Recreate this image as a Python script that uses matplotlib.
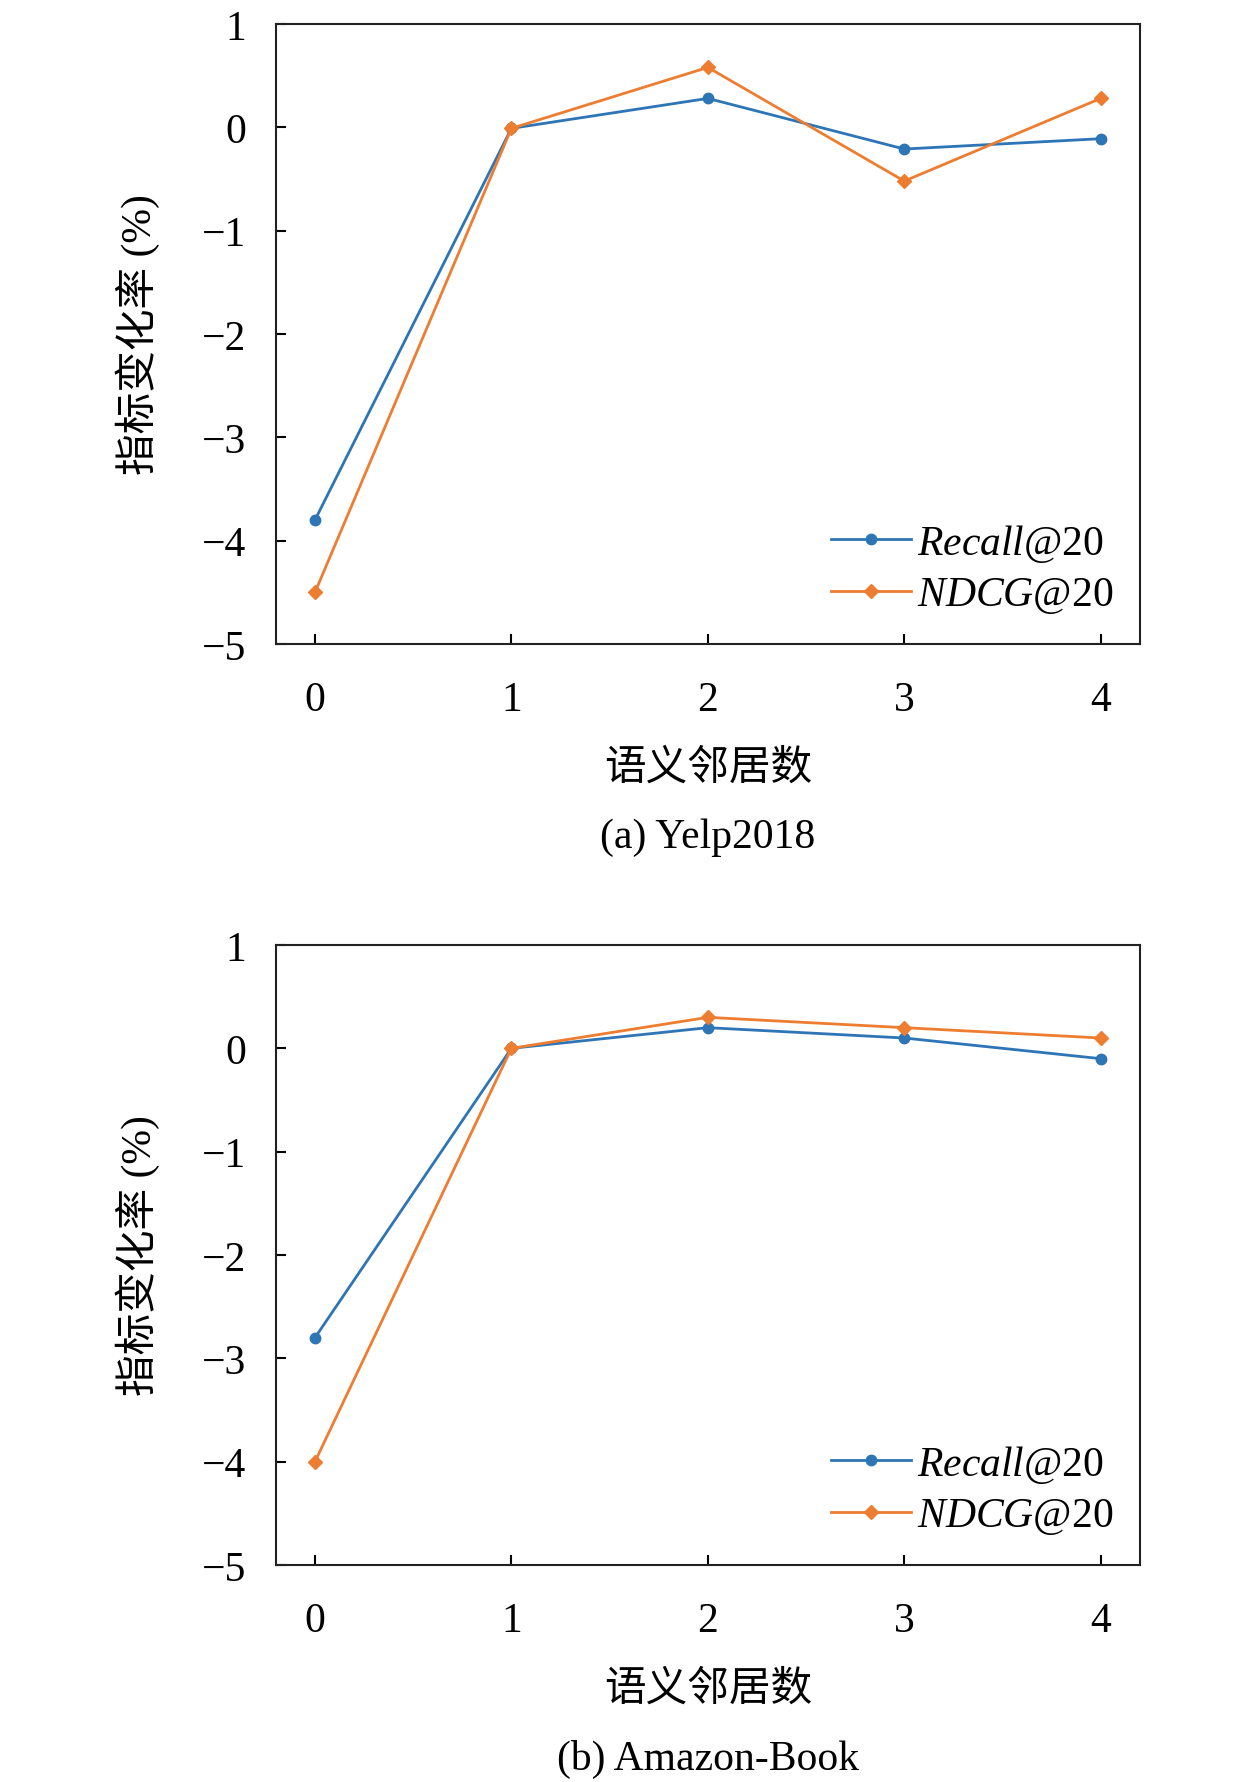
import matplotlib
matplotlib.use("Agg")
import matplotlib.pyplot as plt

plt.rcParams['font.family'] = ['Liberation Serif', 'Noto Sans CJK SC']
plt.rcParams['mathtext.fontset'] = 'custom'
plt.rcParams['mathtext.it'] = 'Liberation Serif:italic'
plt.rcParams['mathtext.rm'] = 'Liberation Serif'

# 语义邻居数
neighbors = [0, 1, 2, 3, 4]

# (a) Yelp2018
yelp_recall = [-3.8, -0.01, 0.28, -0.21, -0.11]
yelp_ndcg = [-4.5, -0.01, 0.58, -0.52, 0.28]

# (b) Amazon-Book
book_recall = [-2.8, 0.0, 0.2, 0.1, -0.1]
book_ndcg = [-4.0, 0.0, 0.3, 0.2, 0.1]

yticks = [1, 0, -1, -2, -3, -4, -5]
captions = ['(a) Yelp2018', '(b) Amazon-Book']

blue = '#2E75B6'
orange = '#ED7D31'
fs = 30

fig = plt.figure(figsize=(12.59, 17.83), dpi=100)

ax_left = 275.7 / 1259
ax_w = (1140 - 275.7) / 1259
ax_h = 620 / 1783
tops = [25, 946]

data = [(yelp_recall, yelp_ndcg), (book_recall, book_ndcg)]

for i in range(2):
    top = tops[i]
    ax = fig.add_axes([ax_left, 1 - (top + 620) / 1783, ax_w, ax_h])
    rec, ndcg = data[i]
    ax.plot(neighbors, rec, color=blue, lw=2, marker='o', ms=7.5,
            label=r'$\mathit{Recall}$@20')
    ax.plot(neighbors, ndcg, color=orange, lw=2, marker='D', ms=7.5,
            label=r'$\mathit{NDCG}$@20')
    ax.set_xlim(-0.2, 4.2)
    ax.set_ylim(-5, 1)
    ax.set_xticks(neighbors)
    ax.set_yticks(yticks)
    ax.tick_params(direction='in', length=7, width=1.5, labelsize=fs)
    ax.tick_params(axis='x', pad=26)
    ax.tick_params(axis='y', pad=21)
    for s in ax.spines.values():
        s.set_linewidth(1.5)
        s.set_color('#222222')
    ax.legend(loc='center left', bbox_to_anchor=(0.643, 0.122), frameon=False,
              fontsize=fs, handlelength=1.9, handletextpad=0.15,
              labelspacing=0.28, borderpad=0, borderaxespad=0)

    cx = (275.7 + 1140) / 2 / 1259
    fig.text(138 / 1259, 1 - (top + 310) / 1783, '指标变化率 (%)', fontsize=fs,
             rotation=90, ha='center', va='center')
    fig.text(cx, 1 - (top + 744) / 1783, '语义邻居数', fontsize=fs,
             ha='center', va='center')
    fig.text(cx, 1 - (top + 813) / 1783, captions[i], fontsize=fs,
             ha='center', va='center')

fig.savefig('out.png', dpi=100)
